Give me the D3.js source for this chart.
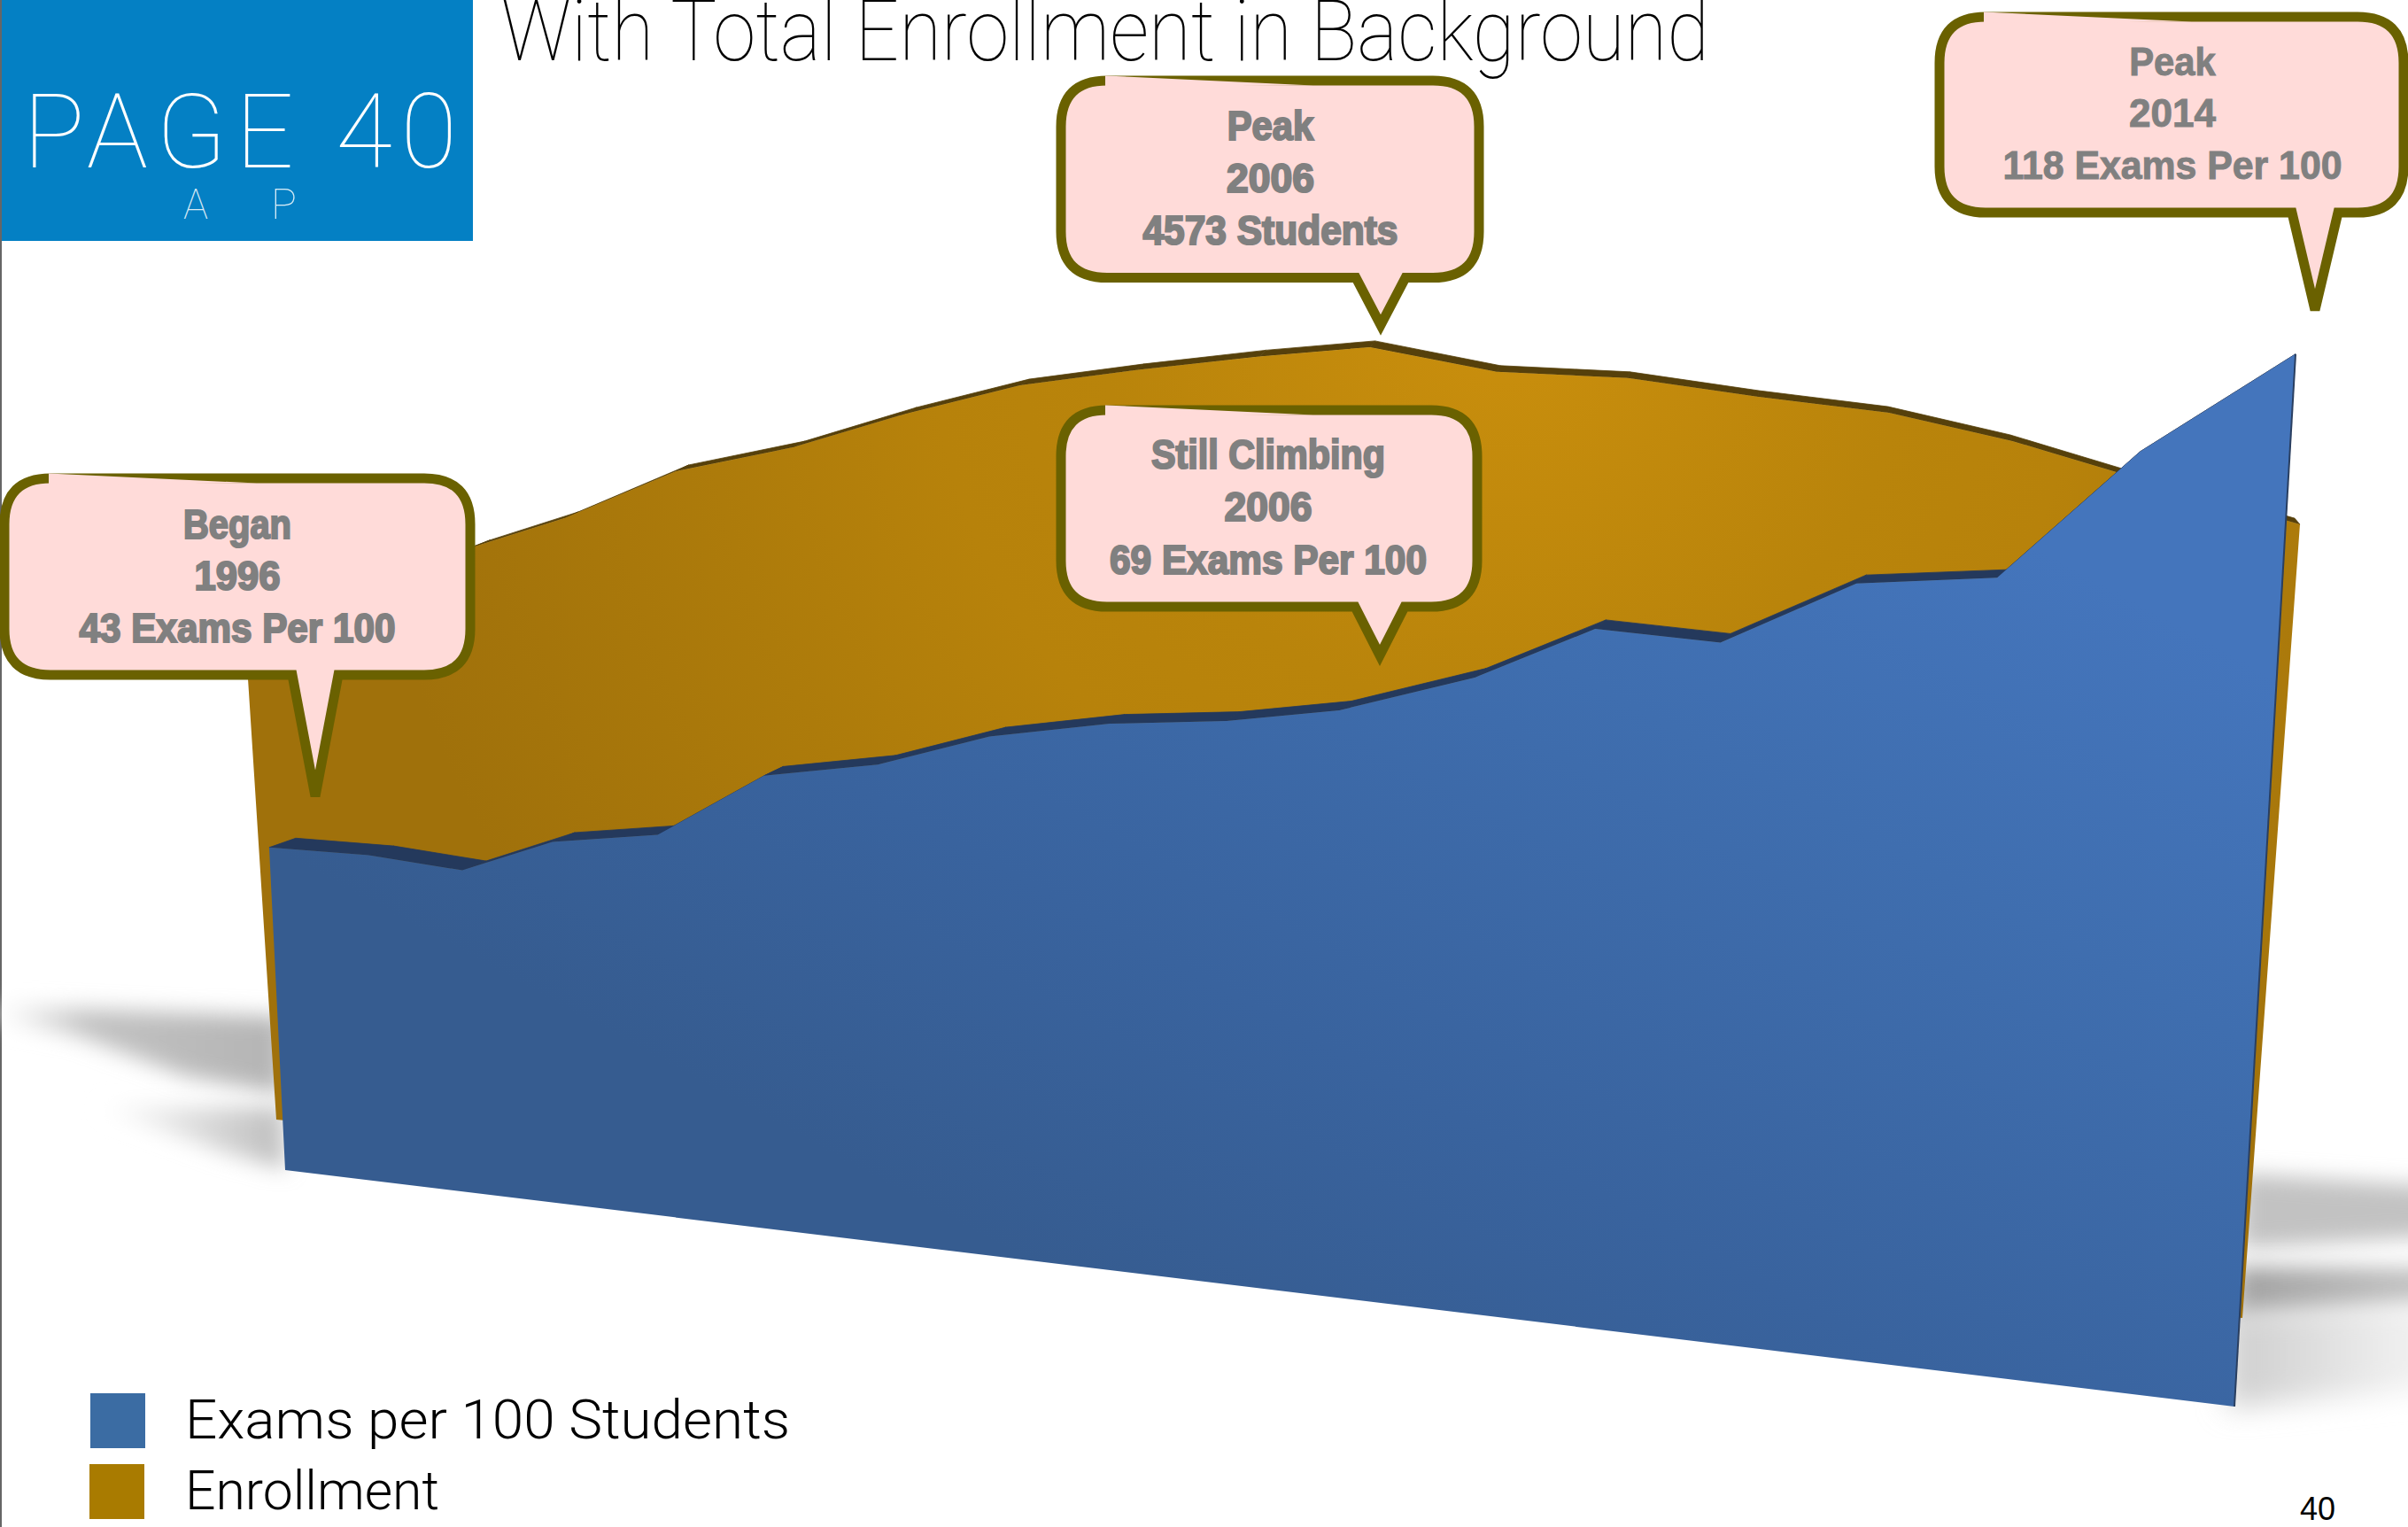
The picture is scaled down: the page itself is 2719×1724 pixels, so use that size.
<!DOCTYPE html>
<html><head><meta charset="utf-8">
<script src="https://cdn.jsdelivr.net/npm/d3@7/dist/d3.min.js"></script>
<style>html,body{margin:0;padding:0;background:#fff;overflow:hidden}svg{display:block}</style>
</head><body>
<svg id="c" width="2719" height="1724" viewBox="0 0 2719 1724"></svg>
<script>
// ---- data (18 vertices are visible on the wall) ----
const years = [1996,1997,1998,1999,2000,2001,2002,2003,2004,2005,2006,2007,2008,2009,2010,2011,2012,2014];
const examsPer100 = [43,43,42,46.6,48.5,56.9,59.2,63.5,65.9,67,69,74.2,81,80.6,88.6,90.5,105.9,118];
const enrollment = [2844,3153,3420,3593,3870,4012,4205,4363,4448,4523,4573,4480,4484,4424,4379,4271,4113,3938];
const legendLabels = ["Exams per 100 Students","Enrollment"];
const calloutLines = [
  ["Began","1996","43 Exams Per 100"],
  ["Peak","2006","4573 Students"],
  ["Still Climbing","2006","69 Exams Per 100"],
  ["Peak","2014","118 Exams Per 100"]
];

// ---- perspective of the two walls, as scales ----
const idx = years.map((d,i)=>i);
function wall(o){
  const depth = d3.scaleLinear().domain(years).range(o.depth);   // year -> position along wall 0..1
  const bx = d3.scaleLinear().domain([0,1]).range(o.baseX);
  const by = d3.scaleLinear().domain([0,1]).range(o.baseY);
  const skew = d3.scaleLinear().domain([0,1]).range(o.skew);
  const unit = d3.scaleLinear().domain([0,o.mid,1]).range(o.unit);
  const bdx = d3.scaleLinear().domain(o.backU).range(o.backX);
  const bdy = d3.scaleLinear().domain(o.backU).range(o.backY);
  return function(year,v,back){
    const u = depth(year);
    return [bx(u)+v*skew(u)+(back?bdx(u):0), by(u)-v*unit(u)+(back?bdy(u):0)];
  };
}
const examsWall = wall({
  depth:[0,.050,.097,.143,.196,.250,.307,.363,.423,.481,.537,.604,.663,.725,.791,.860,.927,1],
  baseX:[322,2523], baseY:[1321,1588], skew:[-.42,.585], mid:.537, unit:[8.47,9.6,10.07],
  backU:[0,.5,.75,.86,.927,1], backX:[30,14,11,11,0,0], backY:[-10.5,-10.5,-10,-9,0,0]
});
const enrollWall = wall({
  depth:[0,.058,.115,.159,.214,.271,.326,.381,.437,.496,.549,.610,.673,.736,.799,.859,.923,1],
  baseX:[312,2532], baseY:[1264,1488], skew:[-.0123,.0165], mid:.549, unit:[.1913,.2176,.2275],
  backU:[0,1], backX:[20,-6], backY:[-7,-7]
});

const svg = d3.select("#c");
const defs = svg.append("defs");
const poly = d3.line();
function grad(id,x1,y1,x2,y2,stops){
  const g = defs.append("linearGradient").attr("id",id).attr("gradientUnits","userSpaceOnUse")
    .attr("x1",x1).attr("y1",y1).attr("x2",x2).attr("y2",y2);
  stops.forEach(s=>g.append("stop").attr("offset",s[0]).attr("stop-color",s[1]));
}
grad("gBlue",1900,400,1300,1500,[[0,"#4475BC"],[.3,"#3F6EAF"],[.7,"#39639E"],[1,"#365C90"]]);
const rg = defs.append("radialGradient").attr("id","gGold").attr("gradientUnits","userSpaceOnUse")
  .attr("cx",1700).attr("cy",350).attr("r",1300);
[[0,"#CA8F0D"],[.35,"#B9840B"],[.5,"#B7820B"],[.7,"#AD7B0B"],[1,"#A0710B"]].forEach(s=>rg.append("stop").attr("offset",s[0]).attr("stop-color",s[1]));
[["b12",12],["b16",16]].forEach(b=>{
  defs.append("filter").attr("id",b[0]).attr("x","-40%").attr("y","-60%").attr("width","180%").attr("height","220%")
    .append("feGaussianBlur").attr("stdDeviation",b[1]);
});
grad("fadeL",0,0,320,0,[[0,"#ffffff"],[.3,"#c2c2c2"],[1,"#b4b4b4"]]);
grad("fadeL2",110,0,322,0,[[0,"#ffffff"],[1,"#bdbdbd"]]);
grad("fadeR",2530,0,2719,0,[[0,"#a0a0a0"],[1,"#bebebe"]]);
grad("fadeR2",2523,0,2719,0,[[0,"#cfcfcf"],[1,"#f0f0f0"]]);

// ---- page edge + soft floor shadows ----
svg.append("rect").attr("x",0).attr("y",0).attr("width",2).attr("height",1724).attr("fill","#666");
const shadows = [
  {f:"url(#fadeL)",b:"b12",p:[[0,1135],[320,1148],[320,1235],[210,1215],[90,1170],[0,1152]]},
  {f:"url(#fadeL2)",b:"b12",p:[[110,1250],[320,1250],[322,1320],[250,1300]]},
  {f:"#c2c2c2",b:"b12",p:[[2530,1325],[2760,1340],[2760,1395],[2530,1410]]},
  {f:"url(#fadeR)",b:"b12",p:[[2525,1430],[2760,1432],[2760,1475],[2525,1490]]},
  {f:"url(#fadeR2)",b:"b16",p:[[2515,1480],[2760,1470],[2760,1565],[2515,1590]]}
];
svg.selectAll("path.shadow").data(shadows).join("path").attr("class","shadow")
  .attr("d",d=>poly(d.p)+"Z").attr("fill",d=>d.f).attr("filter",d=>`url(#${d.b})`);

// ---- the two walls ----
function drawWall(proj,vals,strip,fill,edge){
  const g = svg.append("g");
  g.selectAll("path.top").data(idx.slice(0,-1)).join("path").attr("class","top")
    .attr("fill",strip).attr("stroke",strip).attr("stroke-width",.8)
    .attr("d",i=>poly([proj(years[i],vals[i]),proj(years[i+1],vals[i+1]),proj(years[i+1],vals[i+1],true),proj(years[i],vals[i],true)])+"Z");
  const pts = years.map((y,i)=>proj(y,vals[i]));
  pts.push(proj(years[years.length-1],0)); pts.push(proj(years[0],0));
  g.append("path").attr("d",poly(pts)+"Z").attr("fill",fill);
  if(edge){
    g.append("path").attr("d",poly([proj(years[years.length-1],vals[vals.length-1]),proj(years[years.length-1],0)]))
      .attr("stroke",edge).attr("stroke-width",2).attr("fill","none");
  }
}
drawWall(enrollWall,enrollment,"#56400B","url(#gGold)");
drawWall(examsWall,examsPer100,"#24395C","url(#gBlue)","#2a3f60");

// ---- title ----
const thin = "Roboto, 'Open Sans', 'Liberation Sans', sans-serif";
svg.append("text").text("With Total Enrollment in Background").attr("x",566).attr("y",68)
  .attr("font-family",thin).attr("font-weight",100).attr("font-size",96).attr("fill","#000")
  .attr("textLength",1364).attr("lengthAdjust","spacingAndGlyphs");

// ---- page tab ----
svg.append("rect").attr("x",2).attr("y",0).attr("width",532).attr("height",272).attr("fill","#0480C4");
svg.append("text").text("PAGE 40").attr("x",26).attr("y",189).attr("font-family",thin).attr("font-weight",100)
  .attr("font-size",116).attr("fill","#fff").attr("textLength",490).attr("lengthAdjust","spacing");
[["A",207,28],["P",306,29]].forEach(d=>{
  svg.append("text").text(d[0]).attr("x",d[1]).attr("y",247).attr("font-family",thin).attr("font-weight",100)
   .attr("font-size",48).attr("fill","#fff").attr("fill-opacity",.85).attr("textLength",d[2]).attr("lengthAdjust","spacingAndGlyphs");
});

// ---- callouts ----
const calloutBoxes = [
  {L:5,R:531,T:540,B:762,tip:[356,899],base:[330,382],cx:268,ys:[608,666,725],ws:[122,97,357],heavy:1},
  {L:1198,R:1670,T:91,B:313.5,tip:[1559,367],base:[1531,1587],cx:1434.5,ys:[158,217,276],ws:[97.5,99,288],heavy:1},
  {L:1198,R:1668,T:463,B:685,tip:[1558,740],base:[1530,1586],cx:1432,ys:[529,588,648],ws:[264,99,358],heavy:1},
  {L:2190,R:2714,T:19,B:240,tip:[2614,350],base:[2588,2640],cx:2453,ys:[85,143,202],ws:[97.5,98,383],heavy:0}
];
const r = 52;
calloutBoxes.forEach((b,k)=>{
  const g = svg.append("g");
  const d = `M${b.L+r},${b.T} L${b.R-r},${b.T} Q${b.R},${b.T} ${b.R},${b.T+r} L${b.R},${b.B-r} Q${b.R},${b.B} ${b.R-r},${b.B}`+
    ` L${b.base[1]},${b.B} L${b.tip[0]},${b.tip[1]} L${b.base[0]},${b.B} L${b.L+r},${b.B} Q${b.L},${b.B} ${b.L},${b.B-r} L${b.L},${b.T+r} Q${b.L},${b.T} ${b.L+r},${b.T}Z`;
  g.append("path").attr("d",d).attr("fill","#FFDBD9").attr("stroke","#6A6100").attr("stroke-width",11)
   .attr("stroke-miterlimit",4).attr("stroke-linejoin","miter");
  // the brush-like taper on the top stroke
  const x0=b.L+r-2, x1=x0+235;
  g.append("path").attr("d",poly([[x0,b.T-5.5],[x1,b.T+5.5],[x0,b.T+7]])+"Z").attr("fill","#FFDBD9");
  calloutLines[k].forEach((t,j)=>{
    g.append("text").text(t).attr("x",b.cx).attr("y",b.ys[j]).attr("text-anchor","middle")
     .attr("font-family","'Liberation Sans',Arial,sans-serif").attr("font-weight",700)
     .attr("font-size",b.heavy?46:45).attr("fill","#808080")
     .attr("stroke","#808080").attr("stroke-width",b.heavy?2.2:1)
     .attr("textLength",b.ws[j]).attr("lengthAdjust","spacingAndGlyphs");
  });
});

// ---- legend ----
const legend = [{c:"#3B6CA3",x:102,y:1573,ty:1624,w:683},{c:"#A97B00",x:101,y:1653,ty:1704,w:287}];
legend.forEach((l,i)=>{
  svg.append("rect").attr("x",l.x).attr("y",l.y).attr("width",62).attr("height",62).attr("fill",l.c);
  svg.append("text").text(legendLabels[i]).attr("x",209).attr("y",l.ty).attr("font-family",thin).attr("font-weight",300)
    .attr("font-size",62).attr("fill","#000").attr("textLength",l.w).attr("lengthAdjust","spacingAndGlyphs");
});
svg.append("text").text("40").attr("x",2597).attr("y",1716).attr("font-family","'Liberation Sans',Arial,sans-serif")
  .attr("font-size",36).attr("fill","#000");
</script>
</body></html>
